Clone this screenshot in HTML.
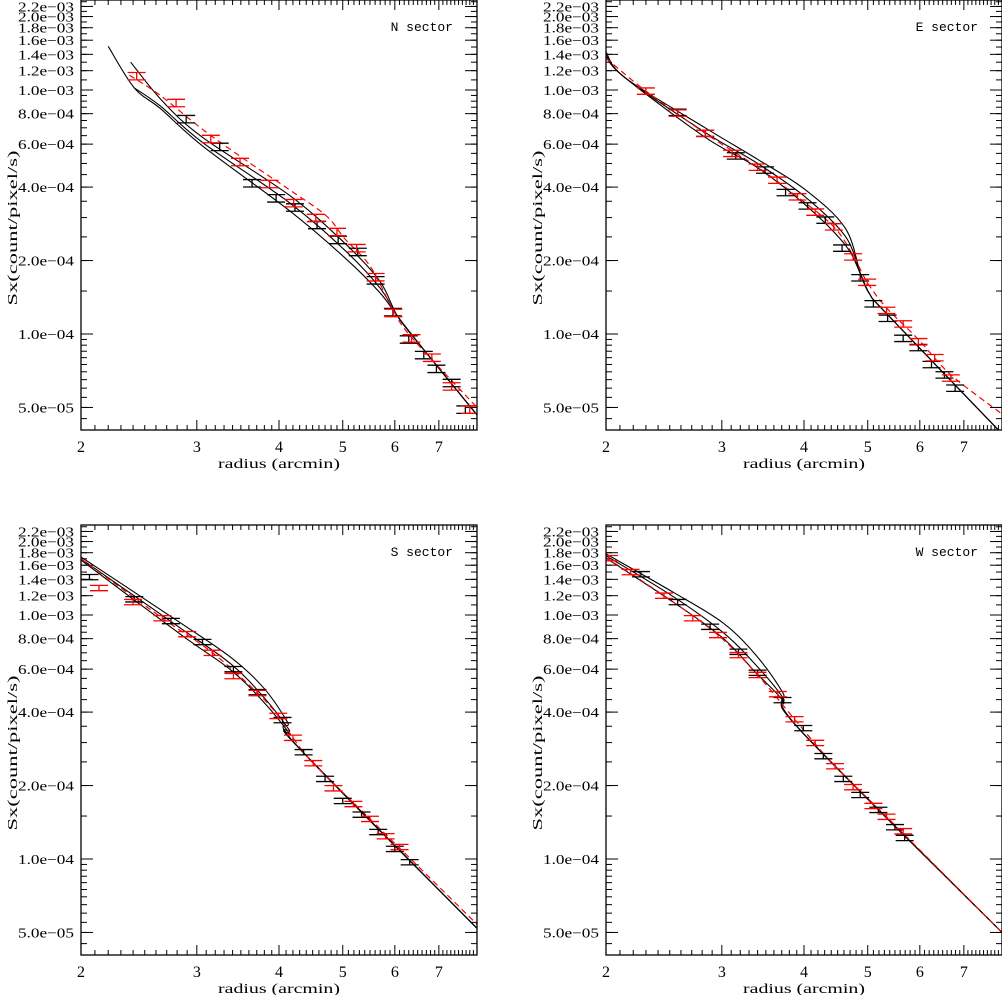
<!DOCTYPE html>
<html><head><meta charset="utf-8"><style>
html,body{margin:0;padding:0;background:#fff;}
svg{display:block;font-family:"Liberation Sans",sans-serif;}
</style></head><body>
<svg id="chart" width="1002" height="995" viewBox="0 0 1002 995" xmlns="http://www.w3.org/2000/svg"></svg>
<script>
// ---- data (S in units of 1e-4 count/pixel/s, r in arcmin) ----
const nBlack = [[2.89,7.6],[3.25,5.85],[3.64,4.15],[3.96,3.6],[4.23,3.3],[4.57,2.8],[4.92,2.43],[5.27,2.17],[5.61,1.66],[5.96,1.23],[6.3,0.95],[6.64,0.82],[6.94,0.72],[7.32,0.63],[7.68,0.49]];
const nRed = [[2.43,11.4],[2.79,8.85],[3.15,6.3],[3.49,5.07],[3.87,4.12],[4.21,3.44],[4.55,2.99],[4.9,2.62],[5.25,2.25],[5.61,1.71],[5.97,1.22],[6.36,0.96],[6.83,0.8],[7.32,0.61],[7.8,0.49]];
const nCurveUpper = [[2.38,13.0],[2.66,9.0],[3.06,6.4],[4.15,3.7],[5.04,2.35],[5.69,1.65],[6.06,1.18],[6.6,0.88],[8.0,0.466]];
const nCurveMid = [[2.41,10.2],[2.64,8.6],[3.06,6.1],[4.15,3.45],[5.04,2.2],[5.69,1.55],[6.06,1.18],[6.6,0.88],[8.0,0.466]];
const nCurveLower = [[2.2,15.1],[2.41,10.2],[2.64,8.4],[3.06,5.9],[4.15,3.2],[5.04,2.05],[5.69,1.48],[6.06,1.18],[6.6,0.88],[8.0,0.466]];
const nModelRed = [[2.37,11.5],[2.64,9.5],[3.06,6.9],[3.62,5.0],[4.15,3.9],[4.72,3.05],[5.04,2.45],[5.5,1.9],[5.97,1.25],[6.36,0.97],[8.0,0.5]];

const eBlack = [[2.57,8.1],[2.83,6.65],[3.15,5.37],[3.49,4.7],[3.75,3.8],[4.05,3.35],[4.31,2.93],[4.57,2.25],[4.87,1.7],[5.1,1.33],[5.36,1.16],[5.66,0.96],[5.97,0.88],[6.25,0.75],[6.54,0.68],[6.79,0.6]];
const eRed = [[2.3,9.9],[2.57,8.05],[2.83,6.65],[3.11,5.5],[3.4,4.83],[3.64,4.27],[3.91,3.65],[4.16,3.16],[4.44,2.75],[4.75,2.07],[4.99,1.63],[5.34,1.25],[5.66,1.1],[5.97,0.93],[6.32,0.8],[6.69,0.66]];
const eCurveUpper = [[2.0,14.3],[2.14,11.2],[2.83,7.0],[3.4,5.2],[4.02,3.9],[4.62,2.72],[4.88,1.75],[5.04,1.45],[5.36,1.2],[8.0,0.39]];
const eCurveMid = [[2.0,13.9],[2.14,11.2],[2.83,6.7],[3.4,5.0],[4.02,3.64],[4.62,2.52],[4.88,1.75],[5.04,1.45],[5.36,1.2],[8.0,0.39]];
const eCurveLower = [[2.0,13.6],[2.14,11.2],[2.83,6.4],[3.4,4.8],[4.02,3.38],[4.62,2.32],[4.88,1.75],[5.04,1.45],[5.36,1.2],[8.0,0.39]];
const eModelRed = [[2.0,13.5],[2.3,9.9],[2.83,6.65],[3.4,4.83],[3.91,3.65],[4.44,2.75],[4.75,2.1],[4.99,1.63],[5.34,1.28],[5.97,0.95],[6.69,0.68],[8.0,0.47]];

const sBlack = [[2.06,14.3],[2.41,11.6],[2.74,9.45],[3.06,7.75],[3.41,6.0],[3.71,4.83],[4.05,3.71],[4.36,2.74],[4.7,2.13],[5.0,1.73],[5.34,1.52],[5.66,1.29],[6.0,1.1],[6.32,0.97]];
const sRed = [[2.13,12.9],[2.4,11.3],[2.66,9.7],[2.9,8.35],[3.17,7.0],[3.41,5.62],[3.71,4.79],[3.99,3.86],[4.2,3.14],[4.51,2.47],[4.84,1.95],[5.19,1.68],[5.5,1.46],[5.81,1.24],[6.1,1.12]];
const sCurveUpper = [[2.0,17.3],[2.83,9.3],[3.38,6.7],[3.79,5.03],[4.12,3.64],[4.29,2.85],[8.0,0.52]];
const sCurveMid = [[2.0,17.0],[2.83,8.85],[3.38,6.3],[3.79,4.61],[4.14,3.4],[4.29,2.85],[8.0,0.52]];
const sCurveLower = [[2.0,16.8],[2.83,8.35],[3.38,5.95],[3.79,4.4],[4.14,3.3],[4.29,2.85],[8.0,0.52]];
const sModelRed = [[2.0,17.0],[2.66,9.7],[3.17,7.0],[3.71,4.79],[3.99,3.86],[4.2,3.14],[4.51,2.47],[5.5,1.46],[8.0,0.54]];

const wBlack = [[2.26,14.7],[2.57,11.3],[2.88,8.95],[3.18,7.07],[3.4,5.8],[3.71,4.48],[3.99,3.44],[4.28,2.64],[4.59,2.13],[4.87,1.83],[5.19,1.59],[5.5,1.35],[5.69,1.22]];
const wRed = [[2.02,17.1],[2.18,15.0],[2.45,12.0],[2.71,9.7],[2.96,8.28],[3.18,6.85],[3.4,5.68],[3.65,4.74],[3.87,3.74],[4.16,2.99],[4.46,2.4],[4.75,1.97],[5.1,1.65],[5.34,1.49],[5.66,1.3]];
const wCurveUpper = [[2.0,17.8],[2.53,12.4],[3.01,9.3],[3.38,6.85],[3.71,4.83],[3.97,3.32],[8.0,0.5]];
const wCurveMid = [[2.0,17.5],[2.53,11.9],[3.01,8.5],[3.38,6.24],[3.71,4.61],[3.97,3.32],[8.0,0.5]];
const wCurveLower = [[2.0,17.1],[2.53,11.3],[3.01,8.05],[3.38,5.8],[3.71,4.48],[3.97,3.32],[8.0,0.5]];
const wModelRed = [[2.0,17.2],[2.45,12.0],[2.96,8.28],[3.4,5.68],[3.87,3.74],[4.46,2.4],[5.34,1.49],[8.0,0.5]];

const relErr = [0.035, 0.03, 0.025, 0.025]; // N, E, S, W
const xTickLabels = ["2","3","4","5","6","7"];
const xTickValues = [2,3,4,5,6,7];
const yTickLabels = ["2.2e\u221203","2.0e\u221203","1.8e\u221203","1.6e\u221203","1.4e\u221203","1.2e\u221203","1.0e\u221203","8.0e\u221204","6.0e\u221204","4.0e\u221204","2.0e\u221204","1.0e\u221204","5.0e\u221205"];
const yTickValues = [22,20,18,16,14,12,10,8,6,4,2,1,0.5];

const panels = [
  {name:"N", left:81, top:0, y0:334, black:nBlack, red:nRed, curves:[nCurveUpper,nCurveMid,nCurveLower], model:nModelRed},
  {name:"E", left:606, top:0, y0:334, black:eBlack, red:eRed, curves:[eCurveUpper,eCurveMid,eCurveLower], model:eModelRed},
  {name:"S", left:81, top:525, y0:859, black:sBlack, red:sRed, curves:[sCurveUpper,sCurveMid,sCurveLower], model:sModelRed},
  {name:"W", left:606, top:525, y0:859, black:wBlack, red:wRed, curves:[wCurveUpper,wCurveMid,wCurveLower], model:wModelRed}
];
const W = 396, H = 430, XS = 396/Math.log10(4), YS = 244;
const NS = "http://www.w3.org/2000/svg";
const svg = document.getElementById('chart');
function mk(tag, attrs, parent){const e=document.createElementNS(NS,tag);for(const k in attrs)e.setAttribute(k,attrs[k]);(parent||svg).appendChild(e);return e;}

function smoothPath(pts){
  let d = "M"+pts[0][0].toFixed(2)+","+pts[0][1].toFixed(2);
  for(let i=0;i<pts.length-1;i++){
    const p0=pts[Math.max(0,i-1)],p1=pts[i],p2=pts[i+1],p3=pts[Math.min(pts.length-1,i+2)];
    const c1=[p1[0]+(p2[0]-p0[0])/6,p1[1]+(p2[1]-p0[1])/6];
    const c2=[p2[0]-(p3[0]-p1[0])/6,p2[1]-(p3[1]-p1[1])/6];
    d+=" C"+c1[0].toFixed(2)+","+c1[1].toFixed(2)+" "+c2[0].toFixed(2)+","+c2[1].toFixed(2)+" "+p2[0].toFixed(2)+","+p2[1].toFixed(2);
  }
  return d;
}

panels.forEach((p,pi)=>{
  const xs = r => p.left + XS*Math.log10(r/2);
  const ys = s => p.y0 - YS*Math.log10(s);
  const g = mk('g',{});
  
  
  const cid = 'clip'+pi;
  const cp = mk('clipPath',{id:cid},g); mk('rect',{x:p.left,y:p.top,width:W,height:H},cp);

  const tg = mk('g',{stroke:'#000','stroke-width':1},g);
  
  
  for(let k=20; k<=80; k+=1){
    const vv=k/10, x=xs(vv), major=(k%10===0), L=major?10:5;
    mk('line',{x1:x,y1:p.top+H,x2:x,y2:p.top+H-L},tg);
    mk('line',{x1:x,y1:p.top,x2:x,y2:p.top+L},tg);
  }
  const minors=[];
  for(let v=0.45; v<1; v+=0.05) minors.push(v);
  for(let v=1.5; v<10; v+=0.5) minors.push(v);
  for(let v=11; v<=23; v+=1) minors.push(v);
  minors.forEach(v=>{const y=ys(v); if(y<p.top||y>p.top+H) return;
    mk('line',{x1:p.left,y1:y,x2:p.left+6,y2:y},tg); mk('line',{x1:p.left+W,y1:y,x2:p.left+W-6,y2:y},tg);});
  yTickValues.forEach((v,i)=>{const y=ys(v);
    mk('line',{x1:p.left,y1:y,x2:p.left+12,y2:y},tg); mk('line',{x1:p.left+W,y1:y,x2:p.left+W-12,y2:y},tg);
    const t=mk('text',{x:p.left-7,y:y+5,'text-anchor':'end','font-size':14,fill:'#000',textLength:56,lengthAdjust:'spacingAndGlyphs','font-family':'Liberation Serif, serif'},g); t.textContent=yTickLabels[i];
    
    
  });
  xTickValues.forEach((v,i)=>{const t=mk('text',{x:xs(v),y:p.top+H+22,'text-anchor':'middle','font-size':16,fill:'#000','font-family':'Liberation Serif, serif'},g); t.textContent=xTickLabels[i];
    
    
  });
  const xt=mk('text',{x:p.left+W/2,y:p.top+H+38,'text-anchor':'middle','font-size':14,fill:'#000',textLength:122,lengthAdjust:'spacingAndGlyphs','font-family':'Liberation Serif, serif'},g); xt.textContent='radius (arcmin)';
  
  
  const yt=mk('text',{x:0,y:0,'text-anchor':'middle','font-size':14,fill:'#000',textLength:155,lengthAdjust:'spacingAndGlyphs','font-family':'Liberation Serif, serif',transform:'translate('+(p.left-64)+','+(p.top+228)+') rotate(-90)'},g); yt.textContent='Sx(count/pixel/s)';
  
  
  const st=mk('text',{x:p.left+W-24,y:p.top+31,'text-anchor':'end','font-size':13,fill:'#000','font-family':'Liberation Mono, monospace'},g); st.textContent=p.name+' sector';
  
  

  const inner = mk('g',{'clip-path':'url(#'+cid+')'},g);
  p.curves.forEach(c=>{
    const path=mk('path',{d:smoothPath(c.map(q=>[xs(q[0]),ys(q[1])])),fill:'none',stroke:'#000','stroke-width':1.1},inner);
    
    
  });
  const mp=mk('path',{d:smoothPath(p.model.map(q=>[xs(q[0]),ys(q[1])])),fill:'none',stroke:'#f00','stroke-width':1.2,'stroke-dasharray':'6,4'},inner);
  
  
  function drawPts(arr,color,nm){
    arr.forEach(q=>{
      const x=xs(q[0]), yt=ys(q[1]*(1+relErr[pi])), yb=ys(q[1]*(1-relErr[pi]));
      const eg=mk('g',{stroke:color,'stroke-width':1.3},inner);
      
      
      mk('line',{x1:x-9,y1:yt,x2:x+9,y2:yt},eg);
      mk('line',{x1:x-9,y1:yb,x2:x+9,y2:yb},eg);
      mk('line',{x1:x,y1:yt,x2:x,y2:yb},eg);
    });
  }
  drawPts(p.black,'#000','data-point-black');
  drawPts(p.red,'#f00','data-point-red');
  const fr=mk('rect',{x:p.left,y:p.top,width:W,height:H,fill:'none',stroke:'#000','stroke-width':1.3},g);
  
  
});
</script>
</body></html>
